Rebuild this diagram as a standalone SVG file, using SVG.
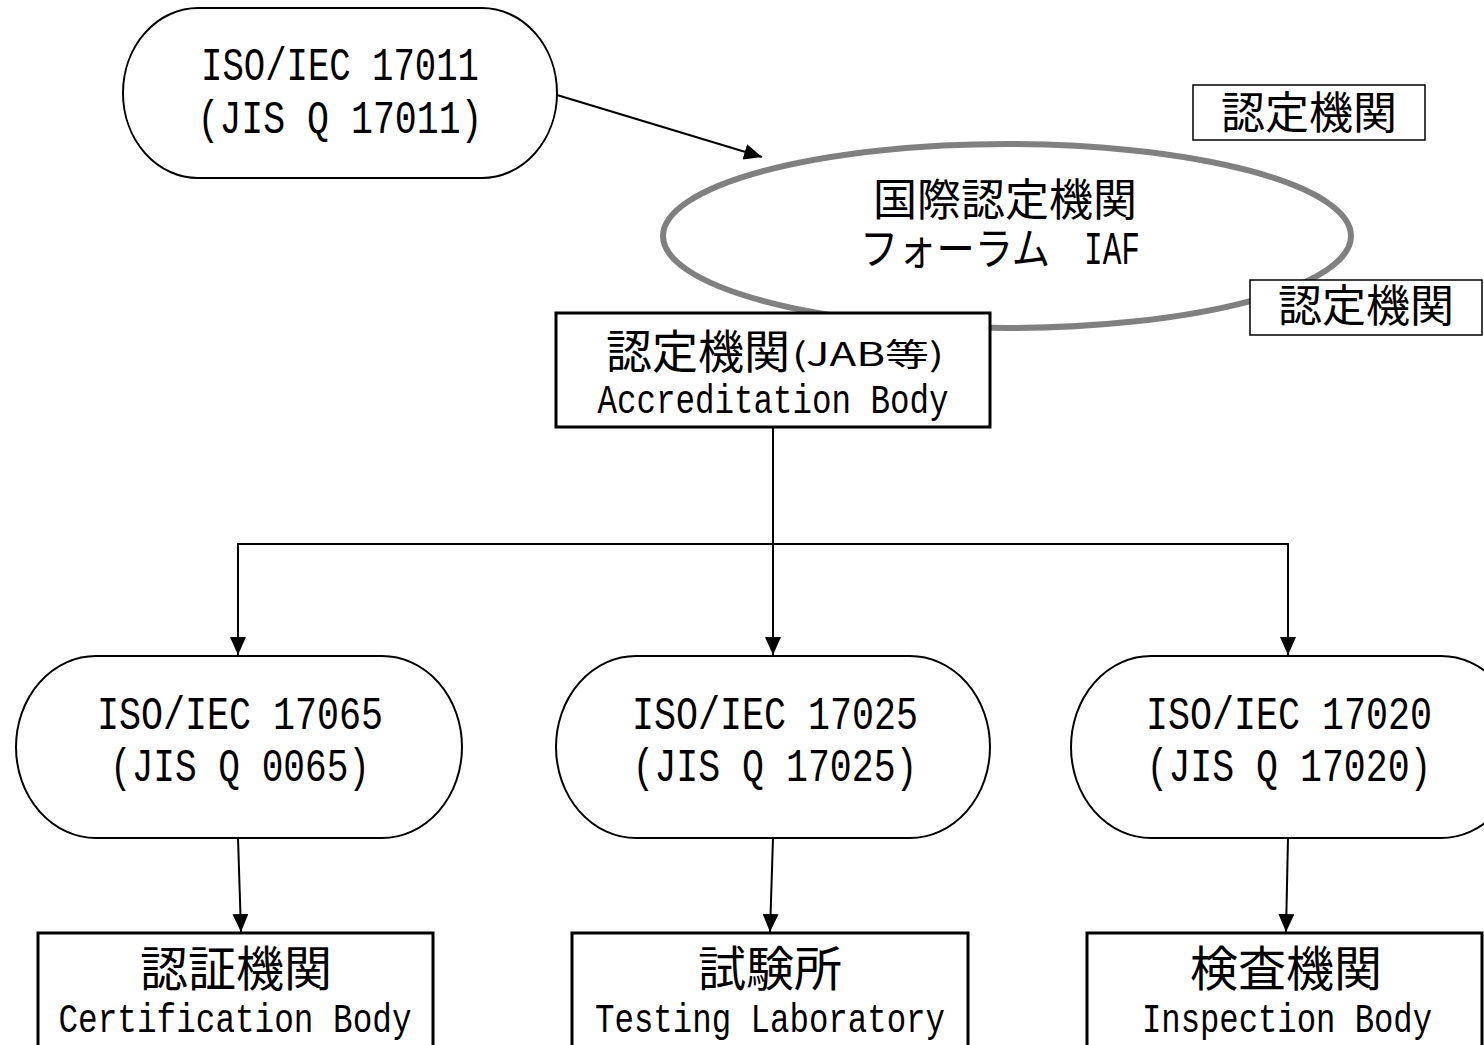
<svg xmlns="http://www.w3.org/2000/svg" width="1484" height="1045" viewBox="0 0 1484 1045">
<style>
.stad{fill:#fff;stroke:#000;stroke-width:2}
.box{fill:#fff;stroke:#000;stroke-width:3}
.sbox{fill:#fff;stroke:#000;stroke-width:1.5}
.lat{font-family:"Liberation Mono",monospace;fill:#000;text-anchor:middle}
.jp{font-family:"Noto Sans CJK JP",sans-serif;fill:#000;text-anchor:middle}
.conn{stroke:#000;stroke-width:2;fill:none}
</style>
<defs>
<marker id="ah" markerUnits="userSpaceOnUse" markerWidth="20" markerHeight="16" refX="18" refY="8" orient="auto">
<path d="M0,0 L18,8 L0,16 Z" fill="#000"/>
</marker>
</defs>
<rect width="1484" height="1045" fill="#fff"/>
<g id="connectors">
<line class="conn" x1="557" y1="95" x2="762" y2="157" marker-end="url(#ah)"/>
<line class="conn" x1="773" y1="427" x2="773" y2="655" marker-end="url(#ah)"/>
<line class="conn" x1="238" y1="544" x2="1288" y2="544"/>
<line class="conn" x1="238" y1="543" x2="238" y2="655" marker-end="url(#ah)"/>
<line class="conn" x1="1288" y1="543" x2="1288" y2="655" marker-end="url(#ah)"/>
<line class="conn" x1="238" y1="838" x2="241" y2="932" marker-end="url(#ah)"/>
<line class="conn" x1="773" y1="838" x2="770" y2="932" marker-end="url(#ah)"/>
<line class="conn" x1="1288" y1="838" x2="1286" y2="932" marker-end="url(#ah)"/>
</g>
<g id="iso17011">
<rect class="stad" x="123" y="8" width="434" height="170" rx="75" ry="85"/>
<text class="lat" x="340" y="80" font-size="46" textLength="278" lengthAdjust="spacingAndGlyphs">ISO/IEC 17011</text>
<text class="lat" x="340" y="133" font-size="46" textLength="285" lengthAdjust="spacingAndGlyphs">(JIS Q 17011)</text>
</g>
<g id="iaf">
<ellipse cx="1007" cy="236" rx="344" ry="92" fill="#fff" stroke="#808080" stroke-width="6"/>
<text class="jp" x="1005" y="216" font-size="44">国際認定機関</text>
<text x="860" y="265" font-family="Noto Sans CJK JP,sans-serif" font-size="44" textLength="190" lengthAdjust="spacingAndGlyphs">フォーラム</text>
<text x="1084" y="264" font-family="Liberation Mono,monospace" font-size="46" textLength="56" lengthAdjust="spacingAndGlyphs">IAF</text>
</g>
<g id="ab-top">
<rect class="sbox" x="1193" y="85" width="232" height="55"/>
<text class="jp" x="1309" y="129" font-size="44">認定機関</text>
</g>
<g id="ab-right">
<rect class="sbox" x="1250" y="280" width="232" height="55"/>
<text class="jp" x="1366" y="322" font-size="44">認定機関</text>
</g>
<g id="accreditation">
<rect class="box" x="556" y="313" width="434" height="114"/>
<text x="606" y="368" font-family="Noto Sans CJK JP,sans-serif" font-size="46">認定機関</text>
<text x="792" y="366" font-family="Noto Sans CJK JP,sans-serif" font-size="32" textLength="152" lengthAdjust="spacingAndGlyphs">(JAB等)</text>
<text class="lat" x="773" y="413" font-size="41" textLength="351" lengthAdjust="spacingAndGlyphs">Accreditation Body</text>
</g>
<g id="iso17065">
<rect class="stad" x="16" y="656" width="446" height="182" rx="80" ry="91"/>
<text class="lat" x="240" y="729" font-size="46" textLength="286" lengthAdjust="spacingAndGlyphs">ISO/IEC 17065</text>
<text class="lat" x="240" y="781" font-size="46" textLength="260" lengthAdjust="spacingAndGlyphs">(JIS Q 0065)</text>
</g>
<g id="iso17025">
<rect class="stad" x="556" y="656" width="434" height="182" rx="80" ry="91"/>
<text class="lat" x="775" y="729" font-size="46" textLength="286" lengthAdjust="spacingAndGlyphs">ISO/IEC 17025</text>
<text class="lat" x="775" y="781" font-size="46" textLength="285" lengthAdjust="spacingAndGlyphs">(JIS Q 17025)</text>
</g>
<g id="iso17020">
<rect class="stad" x="1071" y="656" width="450" height="182" rx="80" ry="91"/>
<text class="lat" x="1289" y="729" font-size="46" textLength="286" lengthAdjust="spacingAndGlyphs">ISO/IEC 17020</text>
<text class="lat" x="1289" y="781" font-size="46" textLength="285" lengthAdjust="spacingAndGlyphs">(JIS Q 17020)</text>
</g>
<g id="certification">
<rect class="box" x="38" y="933" width="395" height="120"/>
<text class="jp" x="236" y="986" font-size="48">認証機関</text>
<text class="lat" x="235" y="1032" font-size="41" textLength="353" lengthAdjust="spacingAndGlyphs">Certification Body</text>
</g>
<g id="testing">
<rect class="box" x="572" y="933" width="396" height="120"/>
<text class="jp" x="770" y="986" font-size="48">試験所</text>
<text class="lat" x="770" y="1032" font-size="41" textLength="350" lengthAdjust="spacingAndGlyphs">Testing Laboratory</text>
</g>
<g id="inspection">
<rect class="box" x="1087" y="933" width="395" height="120"/>
<text class="jp" x="1286" y="986" font-size="48">検査機関</text>
<text class="lat" x="1287" y="1032" font-size="41" textLength="290" lengthAdjust="spacingAndGlyphs">Inspection Body</text>
</g>
</svg>
